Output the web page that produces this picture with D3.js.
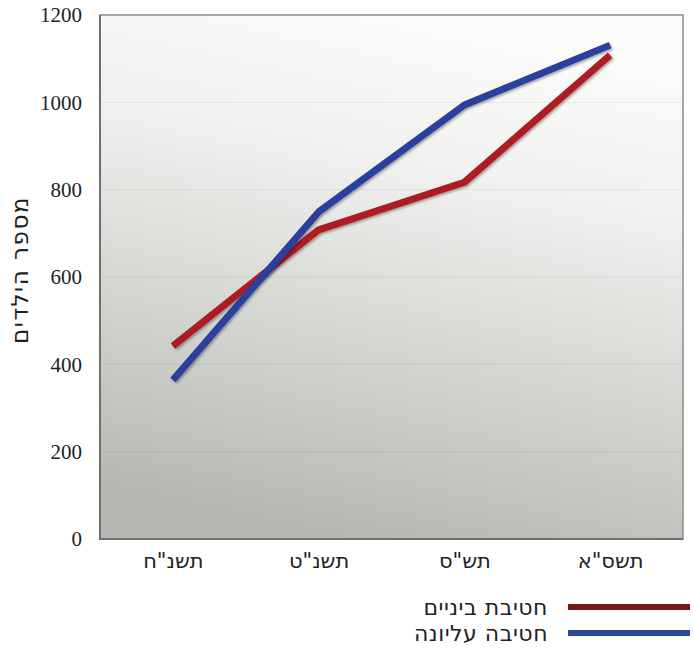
<!DOCTYPE html>
<html lang="he">
<head>
<meta charset="utf-8">
<script src="https://cdn.jsdelivr.net/npm/d3@7"></script>
<style>
  html, body { margin: 0; padding: 0; background: #ffffff; }
  svg { display: block; }
</style>
</head>
<body>
<div id="chart"></div>
<script>
'use strict';

// data
var years = ['תשנ"ח', 'תשנ"ט', 'תש"ס', 'תשס"א'];
var middleSchool = [442, 708, 817, 1108];   // חטיבת ביניים
var highSchool = [364, 749, 994, 1131];     // חטיבה עליונה
var yTicks = [0, 200, 400, 600, 800, 1000, 1200];
var seriesNames = ['חטיבת ביניים', 'חטיבה עליונה'];

var width = 694, height = 658,
    margin = {left: 100, top: 15, right: 11, bottom: 119},
    innerW = width - margin.left - margin.right,
    innerH = height - margin.top - margin.bottom;

var series = [
  {name: seriesNames[0], values: middleSchool, color: '#ad1c22', legend: '#7c1518'},
  {name: seriesNames[1], values: highSchool, color: '#2c3f9c', legend: '#2c4a92'}
];

var svg = d3.select('#chart').append('svg')
    .attr('width', width)
    .attr('height', height);

var defs = svg.append('defs');
var grad = defs.append('linearGradient')
    .attr('id', 'bg')
    .attr('x1', '0.62').attr('y1', '0')
    .attr('x2', '0.38').attr('y2', '1');
grad.append('stop').attr('offset', '0%').attr('stop-color', '#fcfcfa');
grad.append('stop').attr('offset', '30%').attr('stop-color', '#f0f1ee');
grad.append('stop').attr('offset', '65%').attr('stop-color', '#d2d4d0');
grad.append('stop').attr('offset', '100%').attr('stop-color', '#b4b7b2');

var shadow = defs.append('filter').attr('id', 'shadow')
    .attr('x', '-10%').attr('y', '-10%').attr('width', '120%').attr('height', '120%');
shadow.append('feDropShadow')
    .attr('dx', 1.5).attr('dy', 1.5).attr('stdDeviation', 1)
    .attr('flood-color', '#000').attr('flood-opacity', 0.35);

var x = d3.scalePoint()
    .domain(years)
    .range([0, innerW])
    .padding(0.5);

var y = d3.scaleLinear()
    .domain([0, 1200])
    .range([innerH, 0]);

var g = svg.append('g')
    .attr('transform', 'translate(' + margin.left + ',' + margin.top + ')');

// plot background
g.append('rect')
    .attr('width', innerW)
    .attr('height', innerH)
    .attr('fill', 'url(#bg)');

// faint gridlines
g.append('g').selectAll('line')
    .data(yTicks.slice(1, -1))
    .enter().append('line')
    .attr('x1', 0).attr('x2', innerW)
    .attr('y1', function(d){ return y(d); })
    .attr('y2', function(d){ return y(d); })
    .attr('stroke', '#000')
    .attr('stroke-opacity', 0.06)
    .attr('stroke-width', 1);

// frame
g.append('rect')
    .attr('width', innerW)
    .attr('height', innerH)
    .attr('fill', 'none')
    .attr('stroke', '#8a8a8a')
    .attr('stroke-width', 1.5);
g.append('path')
    .attr('d', 'M0,0V' + innerH + 'H' + innerW)
    .attr('fill', 'none')
    .attr('stroke', '#6f6f6f')
    .attr('stroke-width', 2);

// y axis
var yAxis = g.append('g')
    .call(d3.axisLeft(y).tickValues(yTicks).tickFormat(d3.format('d')).tickSize(0).tickPadding(18));
yAxis.select('.domain').remove();
yAxis.selectAll('text')
    .attr('font-family', '"Liberation Serif", "DejaVu Serif", serif')
    .attr('font-size', '21px')
    .attr('fill', '#222');

// x axis
var xAxis = g.append('g')
    .attr('transform', 'translate(0,' + innerH + ')')
    .call(d3.axisBottom(x).tickSize(0).tickPadding(14));
xAxis.select('.domain').remove();
xAxis.selectAll('text')
    .attr('font-family', '"DejaVu Sans", "Noto Sans", sans-serif')
    .attr('font-size', '21px')
    .attr('fill', '#222')
    .attr('direction', 'rtl');

// y axis title
svg.append('text')
    .attr('transform', 'translate(28,' + (margin.top + innerH / 2 - 7) + ') rotate(-90)')
    .attr('text-anchor', 'middle')
    .attr('direction', 'rtl')
    .attr('font-family', '"DejaVu Sans", "Noto Sans", sans-serif')
    .attr('font-size', '23px')
    .attr('letter-spacing', '1.5px')
    .attr('fill', '#222')
    .text('מספר הילדים');

// lines
var line = d3.line()
    .x(function(d, i){ return x(years[i]); })
    .y(function(d){ return y(d); });

g.append('g').selectAll('path')
    .data(series)
    .enter().append('path')
    .attr('d', function(d){ return line(d.values); })
    .attr('fill', 'none')
    .attr('stroke', function(d){ return d.color; })
    .attr('stroke-width', 7)
    .attr('stroke-linejoin', 'round')
    .attr('filter', 'url(#shadow)');

// legend
var legend = svg.append('g').selectAll('g')
    .data(series)
    .enter().append('g')
    .attr('transform', function(d, i){ return 'translate(0,' + (607 + i * 26) + ')'; });

legend.append('line')
    .attr('x1', 568).attr('x2', 690)
    .attr('stroke', function(d){ return d.legend; })
    .attr('stroke-width', 6);

legend.append('text')
    .attr('x', 548)
    .attr('y', 8)
    .attr('text-anchor', 'start')
    .attr('direction', 'rtl')
    .attr('font-family', '"DejaVu Sans", "Noto Sans", sans-serif')
    .attr('font-size', '22px')
    .attr('letter-spacing', '0.5px')
    .attr('fill', '#222')
    .text(function(d){ return d.name; });
</script>
</body>
</html>
